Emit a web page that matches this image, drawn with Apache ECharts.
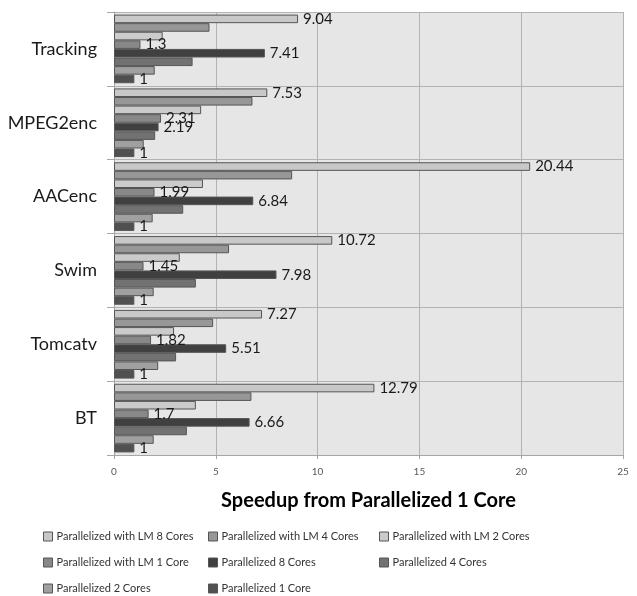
<!DOCTYPE html>
<html><head><meta charset="utf-8">
<script src="https://cdn.jsdelivr.net/npm/echarts@6/dist/echarts.min.js"></script>
<style>html,body{margin:0;padding:0;background:#fff}#c{width:637px;height:596px}</style>
</head><body><div id="c"></div>
<script>
var categories = ['BT', 'Tomcatv', 'Swim', 'AACenc', 'MPEG2enc', 'Tracking'];
var xTicks = [0, 5, 10, 15, 20, 25];
var lm8 = [12.79, 7.27, 10.72, 20.44, 7.53, 9.04];
var lm4 = [6.75, 4.87, 5.65, 8.75, 6.8, 4.69];
var lm2 = [4.02, 2.95, 3.23, 4.37, 4.28, 2.39];
var lm1 = [1.7, 1.82, 1.45, 1.99, 2.31, 1.3];
var p8 = [6.66, 5.51, 7.98, 6.84, 2.19, 7.41];
var p4 = [3.58, 3.05, 4.02, 3.40, 2.02, 3.86];
var p2 = [1.95, 2.17, 1.95, 1.9, 1.46, 2.0];
var p1 = [1, 1, 1, 1, 1, 1];
var names = ['Parallelized with LM 8 Cores', 'Parallelized with LM 4 Cores', 'Parallelized with LM 2 Cores',
  'Parallelized with LM 1 Core', 'Parallelized 8 Cores', 'Parallelized 4 Cores', 'Parallelized 2 Cores', 'Parallelized 1 Core'];
var values = [lm8, lm4, lm2, lm1, p8, p4, p2, p1];
var colors = ['#c8c8c8', '#979797', '#cbcbcb', '#888888', '#404040', '#727272', '#a0a0a0', '#505050'];
var labeled = [true, false, false, true, true, false, false, true];

var FONT = 'Lato';
var series = names.map(function (n, i) {
  return {
    name: n, type: 'bar', data: values[i],
    barGap: '0%', barCategoryGap: '7%',
    itemStyle: { color: colors[i], borderColor: '#555555', borderWidth: 1 },
    label: { show: labeled[i], position: 'right', distance: 5, color: '#1a1a1a', fontSize: 15, fontFamily: FONT },
    emphasis: { disabled: true }, animation: false
  };
});

var legendPos = [[43, 531], [208, 531], [379, 531], [43, 557], [208, 557], [379, 557], [43, 583], [208, 583]];
var legends = names.map(function (n, i) {
  return {
    data: [n], left: legendPos[i][0], top: legendPos[i][1], itemWidth: 9, itemHeight: 9, itemGap: 5, padding: 0,
    icon: 'rect', selectedMode: false,
    itemStyle: { borderColor: '#555555', borderWidth: 1 },
    textStyle: { fontSize: 11, color: '#333333', fontFamily: FONT, padding: [0, 0, 0, -1] }
  };
});

var chart = echarts.init(document.getElementById('c'), null, { renderer: 'canvas' });
chart.setOption({
  animation: false,
  textStyle: { fontFamily: FONT },
  grid: { left: 114, right: 14, top: 12, bottom: 141, show: true, backgroundColor: '#e6e6e6', borderWidth: 0 },
  legend: legends,
  xAxis: {
    type: 'value', min: xTicks[0], max: xTicks[xTicks.length - 1], interval: 5,
    axisLine: { show: true, lineStyle: { color: '#a6a6a6' } },
    axisTick: { show: true, length: 4, lineStyle: { color: '#a6a6a6' } },
    axisLabel: { color: '#595959', fontSize: 10, margin: 12, fontFamily: FONT },
    splitLine: { show: true, lineStyle: { color: '#b3b3b3' } },
    name: 'Speedup from Parallelized 1 Core', nameLocation: 'middle', nameGap: 36,
    nameTextStyle: { fontSize: 20, fontWeight: 'bold', color: '#000', fontFamily: FONT }
  },
  yAxis: {
    type: 'category', data: categories,
    axisLine: { show: true, lineStyle: { color: '#a6a6a6' } },
    axisTick: { show: true, length: 7, lineStyle: { color: '#a6a6a6' } },
    axisLabel: { color: '#1a1a1a', fontSize: 18, margin: 17, fontFamily: FONT },
    splitLine: { show: true, lineStyle: { color: '#b3b3b3' } }
  },
  series: series
});
</script></body></html>
